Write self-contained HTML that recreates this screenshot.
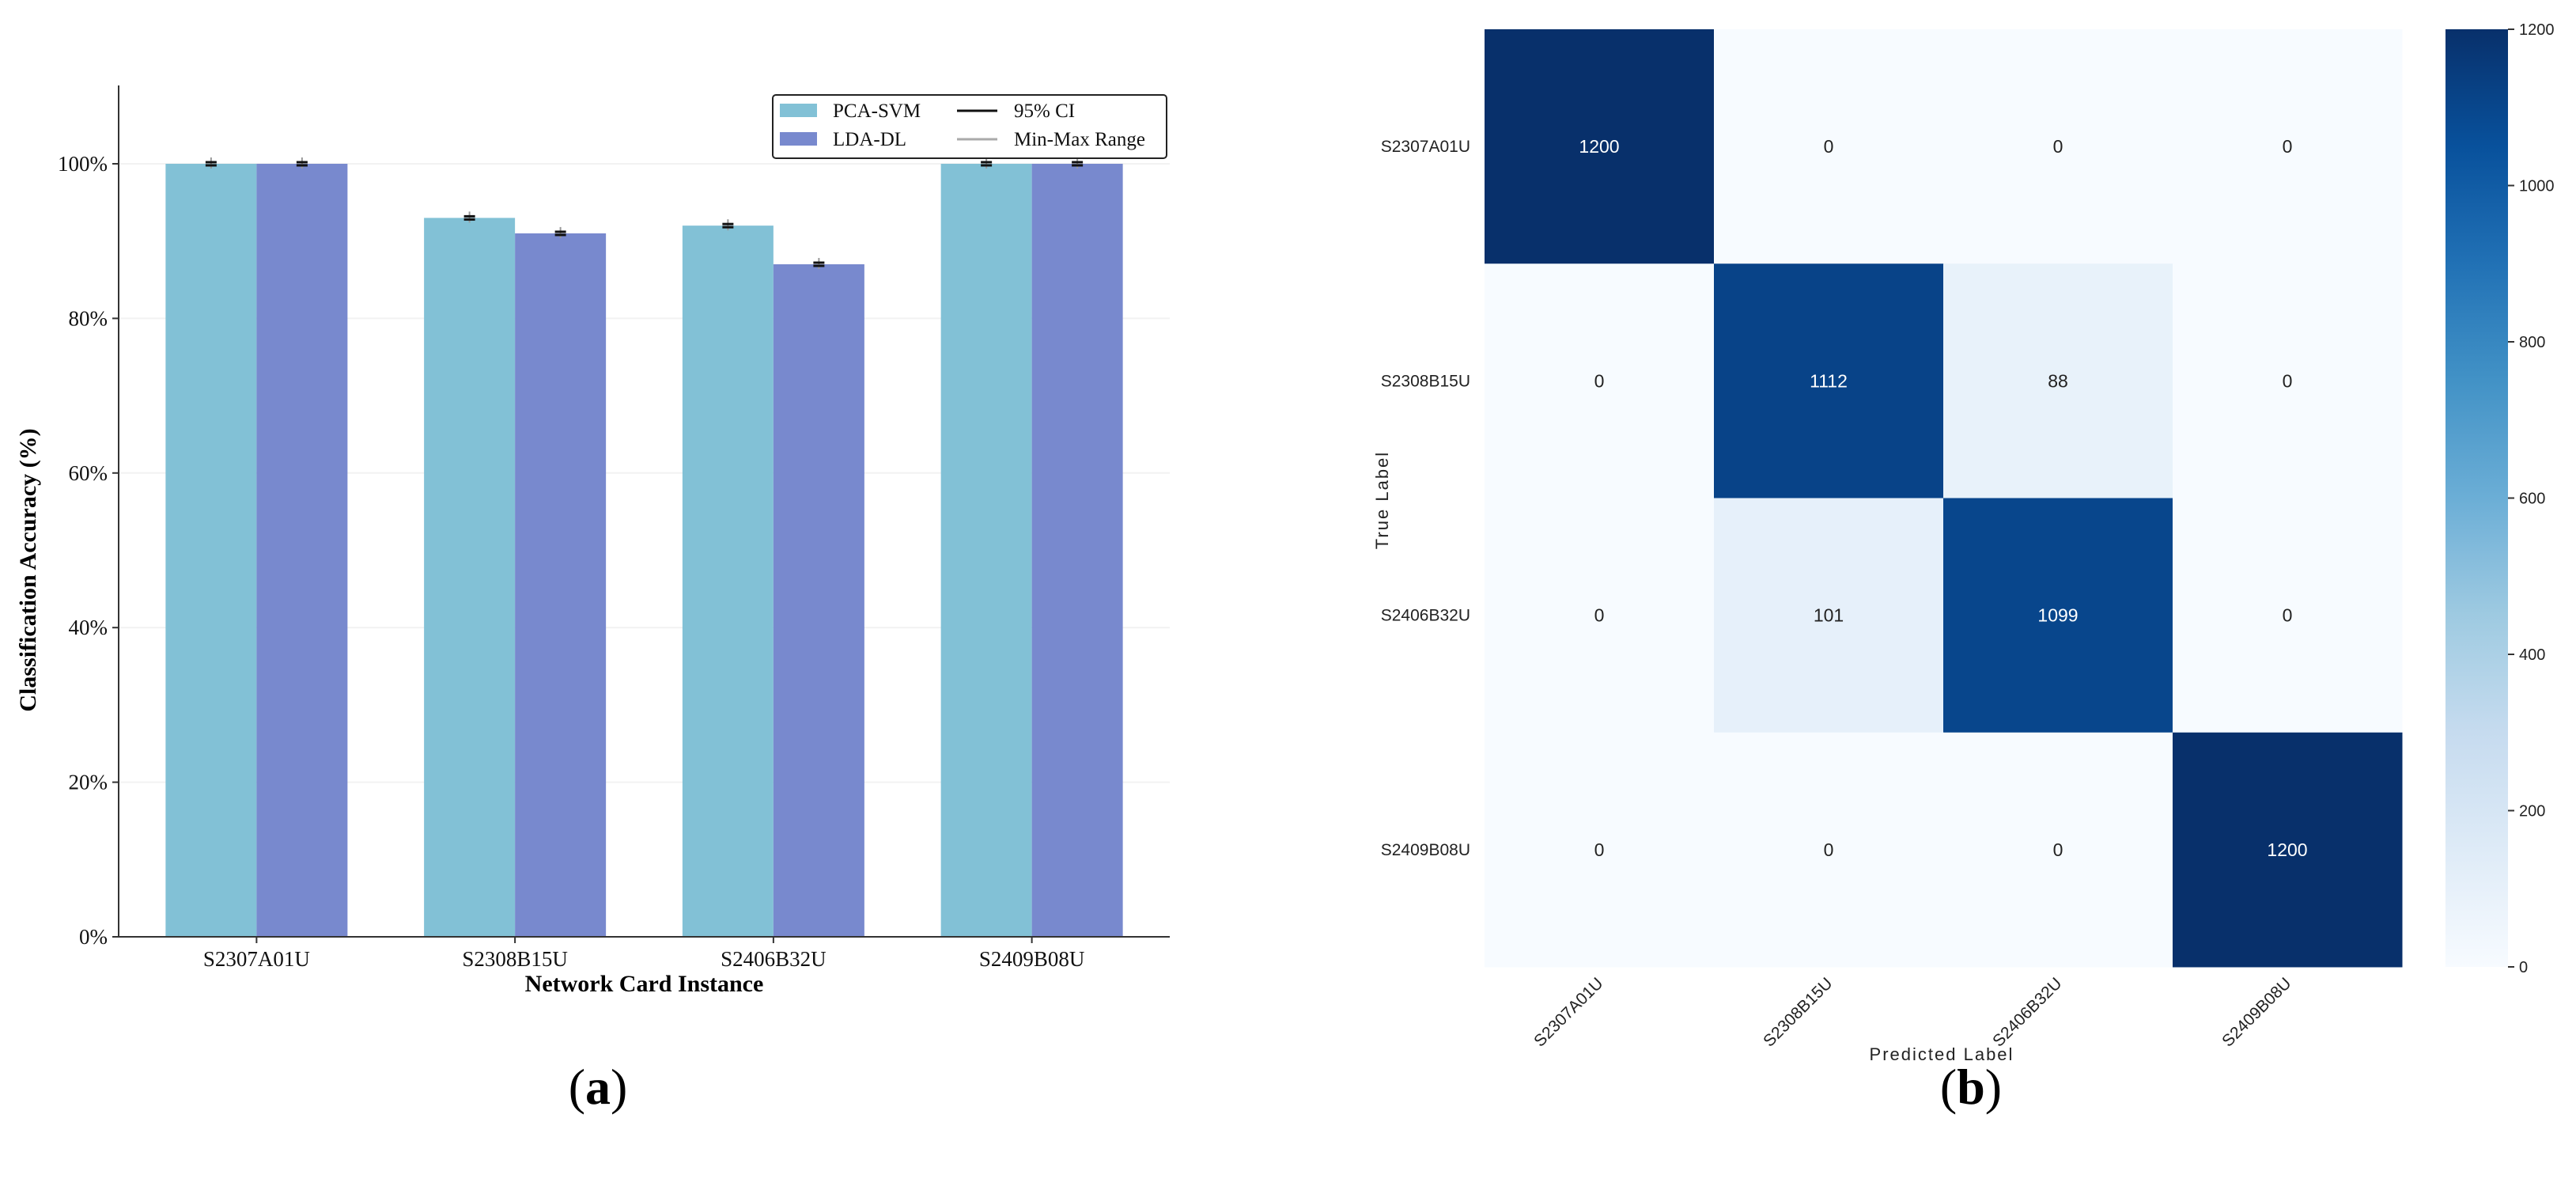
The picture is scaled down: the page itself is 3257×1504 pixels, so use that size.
<!DOCTYPE html>
<html><head><meta charset="utf-8"><style>
html,body{margin:0;padding:0;background:#fff;}
svg{display:block;}
</style></head><body>
<svg id="fig" width="3257" height="1504" viewBox="0 0 3257 1504" xmlns="http://www.w3.org/2000/svg">
<g id="barchart"></g>
<g id="heatmap"></g>
<text x="756" y="1395" font-family="Liberation Serif, serif" font-size="64" text-anchor="middle">(<tspan font-weight="bold">a</tspan>)</text>
<text x="2492" y="1395" font-family="Liberation Serif, serif" font-size="64" text-anchor="middle">(<tspan font-weight="bold">b</tspan>)</text>
</svg>
<script>
const categories = ["S2307A01U","S2308B15U","S2406B32U","S2409B08U"];
const pcaSvm = [100,93,92,100];
const ldaDl = [100,91,87,100];
const yTicks = [0,20,40,60,80,100];
const cmLabels = ["S2307A01U","S2308B15U","S2406B32U","S2409B08U"];
const cmValues = [[1200,0,0,0],[0,1112,88,0],[0,101,1099,0],[0,0,0,1200]];
const cbTicks = [0,200,400,600,800,1000,1200];

const NS="http://www.w3.org/2000/svg";
function mk(parent,tag,attrs,text){const e=document.createElementNS(NS,tag);for(const k in attrs)e.setAttribute(k,attrs[k]);if(text!==undefined)e.textContent=text;parent.appendChild(e);return e;}

// ---- Bar chart ----
(function(){
const g=document.getElementById('barchart');
const x0=150,x1=1479,yb=1184,yt=207,top=108;
const bandStart=161,bandEnd=1468;
const y=v=>yb-(v/100)*(yb-yt);
const groupW=(bandEnd-bandStart)/categories.length;
const cx=i=>bandStart+groupW*(i+0.5);
const bw=115;
const serif="Liberation Serif, serif";
yTicks.forEach(t=>{
  if(t>0){const gl=mk(g,'line',{x1:x0,x2:x1,y1:y(t),y2:y(t),stroke:'#f2f2f2','stroke-width':2});
  }
  const tk=mk(g,'line',{x1:x0-8,x2:x0,y1:y(t),y2:y(t),stroke:'#333','stroke-width':2});
  
  const tl=mk(g,'text',{x:x0-14,y:y(t)+9,'font-family':serif,'font-size':27,'text-anchor':'end',fill:'#111'},t+'%');
  
});
categories.forEach((c,i)=>{
  [[pcaSvm[i],'#82c1d6',-1,'bar-pca-svm'],[ldaDl[i],'#7889ce',0,'bar-lda-dl']].forEach(([v,col,off,nm])=>{
    const bx=cx(i)+off*bw;
    const r=mk(g,'rect',{x:bx,y:y(v),width:bw,height:yb-y(v),fill:col});
    
    const ex=bx+bw/2;
    const e=mk(g,'g',{});
    
    mk(e,'line',{x1:ex,x2:ex,y1:y(v)-8,y2:y(v)+6,stroke:'#999','stroke-width':2});
    mk(e,'line',{x1:ex-7,x2:ex+7,y1:y(v)-2,y2:y(v)-2,stroke:'#111','stroke-width':3});
    mk(e,'line',{x1:ex-7,x2:ex+7,y1:y(v)+2,y2:y(v)+2,stroke:'#111','stroke-width':3});
  });
  const tk=mk(g,'line',{x1:cx(i),x2:cx(i),y1:yb,y2:yb+8,stroke:'#333','stroke-width':2});
  
  const tl=mk(g,'text',{x:cx(i),y:yb+37,'font-family':serif,'font-size':27,'text-anchor':'middle',fill:'#111'},c);
  
});
const ax=mk(g,'line',{x1:x0,x2:x0,y1:top,y2:yb,stroke:'#333','stroke-width':2});

const bx=mk(g,'line',{x1:x0-2,x2:x1,y1:yb,y2:yb,stroke:'#333','stroke-width':2});

const xt=mk(g,'text',{x:(x0+x1)/2,y:1253,'font-family':serif,'font-size':30,'font-weight':'bold','text-anchor':'middle'},'Network Card Instance');

const yl=mk(g,'text',{x:0,y:0,transform:'translate(45,'+((yt+yb)/2+25)+') rotate(-90)','font-family':serif,'font-size':30,'font-weight':'bold','text-anchor':'middle'},'Classification Accuracy (%)');

// legend
const lg=mk(g,'g',{});

mk(lg,'rect',{x:977,y:120,width:498,height:80,rx:4,fill:'#fff',stroke:'#222','stroke-width':2});
const items=[['rect','#82c1d6','PCA-SVM',986,131,'legend-entry-pca-svm'],['rect','#7889ce','LDA-DL',986,167,'legend-entry-lda-dl'],['line','#111','95% CI',1210,131,'legend-entry-ci'],['line','#aaa','Min-Max Range',1210,167,'legend-entry-range']];
items.forEach(([t,col,lab,lx,ly,nm])=>{
  const it=mk(lg,'g',{});
  
  if(t==='rect')mk(it,'rect',{x:lx,y:ly,width:47,height:17,fill:col});
  else mk(it,'line',{x1:lx,x2:lx+51,y1:ly+9,y2:ly+9,stroke:col,'stroke-width':3});
  mk(it,'text',{x:lx+(t==='rect'?67:72),y:ly+17,'font-family':serif,'font-size':25,fill:'#111'},lab);
});
})();

// ---- Heatmap ----
(function(){
const g=document.getElementById('heatmap');
const hx0=1877,hx1=3037,hy0=37,hy1=1222;
const cw=(hx1-hx0)/4,ch=(hy1-hy0)/4;
const stops=[[0,[247,251,255]],[0.125,[222,235,247]],[0.25,[198,219,239]],[0.375,[158,202,225]],[0.5,[107,174,214]],[0.625,[66,146,198]],[0.75,[33,113,181]],[0.875,[8,81,156]],[1,[8,48,107]]];
function blues(t){t=Math.max(0,Math.min(1,t));for(let i=1;i<stops.length;i++){if(t<=stops[i][0]){const a=stops[i-1],b=stops[i];const f=(t-a[0])/(b[0]-a[0]);return 'rgb('+a[1].map((v,k)=>Math.round(v+(b[1][k]-v)*f)).join(',')+')';}}return 'rgb(8,48,107)';}
const vmax=1200;
const font='"Liberation Sans Narrow","Liberation Sans",sans-serif';
cmValues.forEach((row,r)=>row.forEach((v,c)=>{
  const t=v/vmax;
  const rc=mk(g,'rect',{x:hx0+c*cw,y:hy0+r*ch,width:cw+0.5,height:ch+0.5,fill:blues(t)});
  
  const tx=mk(g,'text',{x:hx0+(c+0.5)*cw,y:hy0+(r+0.5)*ch+8,'font-family':font,'font-size':23,'text-anchor':'middle',fill:t>0.5?'#fff':'#222'},String(v));
  
}));
cmLabels.forEach((l,i)=>{
  const yl=mk(g,'text',{x:hx0-18,y:hy0+(i+0.5)*ch+7,'font-family':font,'font-size':21,'text-anchor':'end',fill:'#222'},l);
  
  const xx=hx0+(i+0.5)*cw, yy=hy1+22;
  const xl=mk(g,'text',{x:0,y:0,transform:'translate('+(xx+6)+','+yy+') rotate(-45)','font-family':font,'font-size':21,'text-anchor':'end',fill:'#222'},l);
  
});
const pl=mk(g,'text',{x:2455,y:1340,'font-family':font,'font-size':22,'text-anchor':'middle',fill:'#222','letter-spacing':'2'},'Predicted Label');

const tl=mk(g,'text',{x:0,y:0,transform:'translate(1755,632) rotate(-90)','font-family':font,'font-size':22,'text-anchor':'middle',fill:'#222','letter-spacing':'2'},'True Label');

// colorbar
const cbx=3092,cbw=79;
const defs=mk(g,'defs',{});
const gr=mk(defs,'linearGradient',{id:'cbg',x1:0,y1:1,x2:0,y2:0});
for(let i=0;i<=16;i++)mk(gr,'stop',{offset:(i/16),'stop-color':blues(i/16)});
const cb=mk(g,'rect',{x:cbx,y:hy0,width:cbw,height:hy1-hy0,fill:'url(#cbg)'});

cbTicks.forEach(t=>{
  const yy=hy1-(t/vmax)*(hy1-hy0);
  const tk=mk(g,'line',{x1:cbx+cbw,x2:cbx+cbw+8,y1:yy,y2:yy,stroke:'#333','stroke-width':2});
  
  const lb=mk(g,'text',{x:cbx+cbw+14,y:yy+7,'font-family':font,'font-size':20,fill:'#222'},String(t));
  
});
})();
</script>
</body></html>
